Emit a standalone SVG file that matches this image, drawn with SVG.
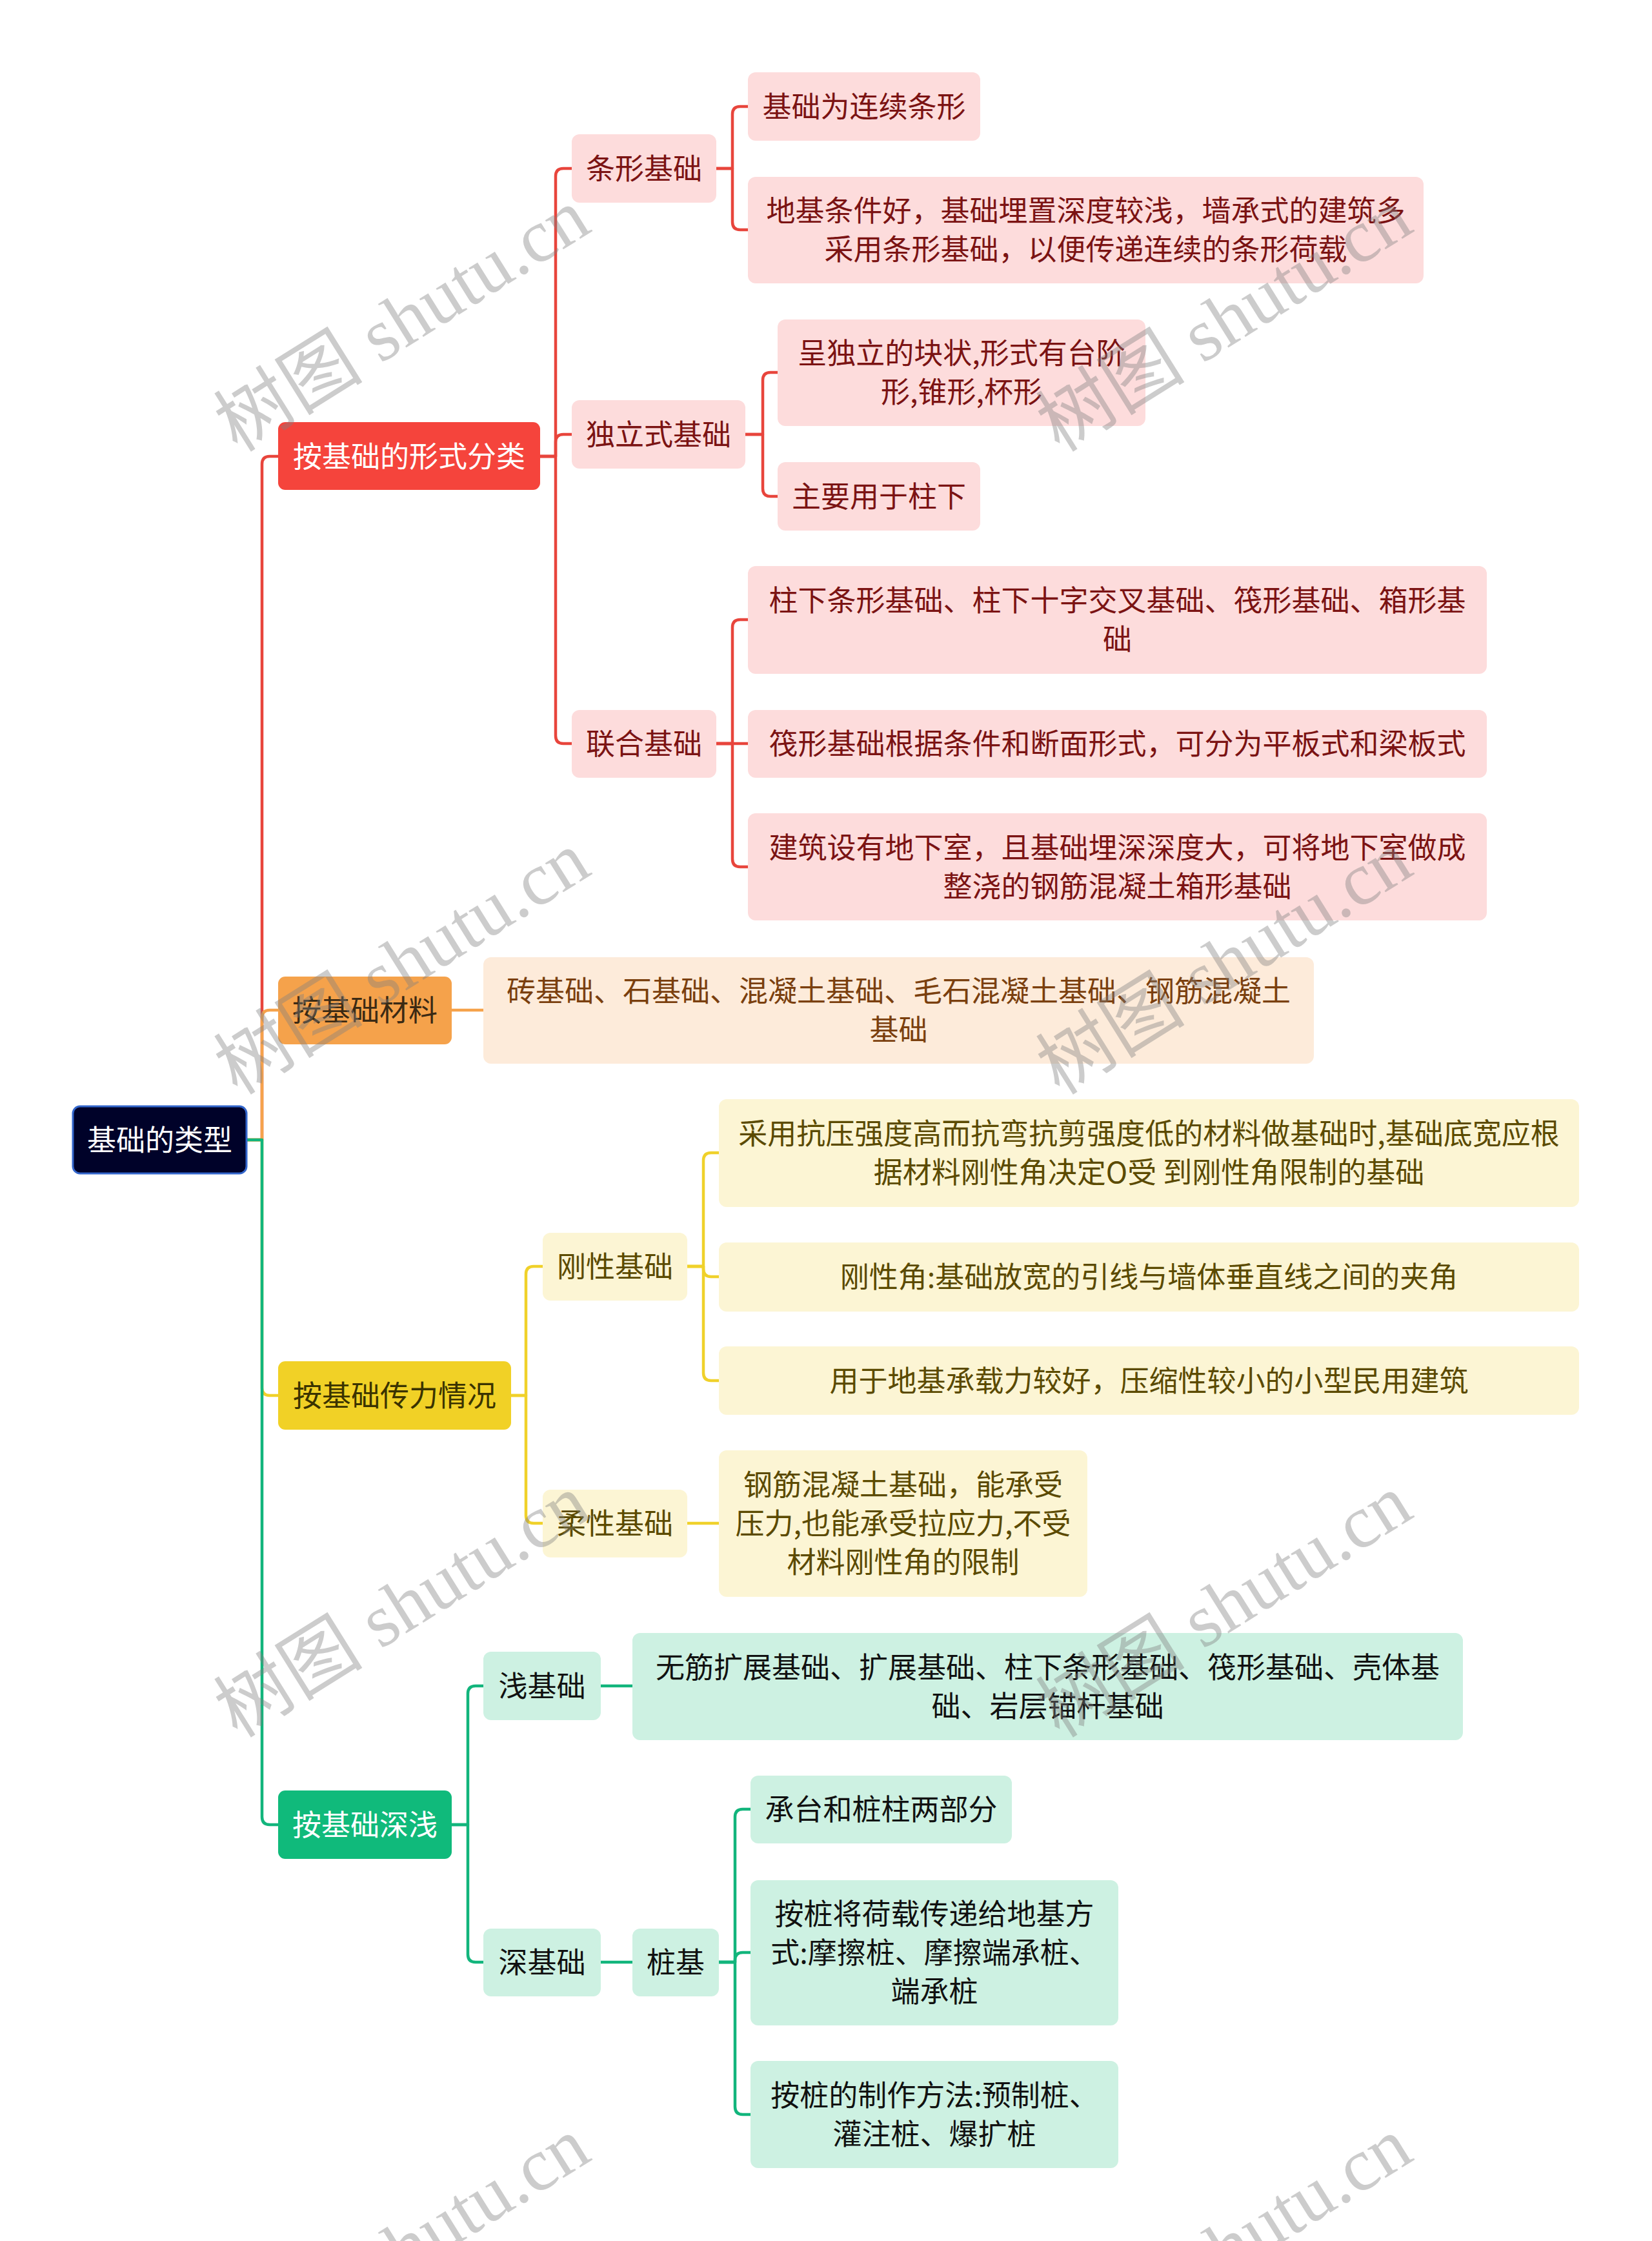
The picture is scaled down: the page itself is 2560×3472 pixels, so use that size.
<svg xmlns="http://www.w3.org/2000/svg" width="2560" height="3472" viewBox="0 0 2560 3472">
<style>
text{font-family:"Noto Sans CJK SC","Noto Sans",sans-serif;font-size:45px;text-anchor:middle}
.c{fill:none;stroke-width:4.5;stroke-linecap:round;stroke-linejoin:round}
.cr{stroke:#E8453C}.co{stroke:#F5A24B}.cy{stroke:#F0D12A}.cg{stroke:#12B57C}
.sr{fill:#FDDCDC}.tr{fill:#7B1313}
.so{fill:#FDEBDA}.to{fill:#7A3F0E}
.sy{fill:#FCF5D4}.ty{fill:#5B4A00}
.sg{fill:#CDF1E2}.tg{fill:#111111}
.wm{font-family:"Liberation Serif","Noto Sans CJK SC",serif;font-size:116px;text-anchor:start;fill:#808080;fill-opacity:0.4}
</style>
<rect width="2560" height="3472" fill="#FFFFFF"/>
<g id="connectors">
<path class="c cr" d="M382 1766H406V719Q406 707 418 707H431"/>
<path class="c cr" d="M837 707H861V273Q861 261 873 261H886"/>
<path class="c cr" d="M837 707H861V685Q861 673 873 673H886"/>
<path class="c cr" d="M837 707H861V1140Q861 1152 873 1152H886"/>
<path class="c cr" d="M1110 261H1135V177Q1135 165 1147 165H1159"/>
<path class="c cr" d="M1110 261H1135V344Q1135 356 1147 356H1159"/>
<path class="c cr" d="M1155 673H1182V589Q1182 577 1194 577H1205"/>
<path class="c cr" d="M1155 673H1182V757Q1182 769 1194 769H1205"/>
<path class="c cr" d="M1110 1152H1135V972Q1135 960 1147 960H1159"/>
<path class="c cr" d="M1110 1152H1159"/>
<path class="c cr" d="M1110 1152H1135V1331Q1135 1343 1147 1343H1159"/>
<path class="c co" d="M382 1766H406V1577Q406 1565 418 1565H431"/>
<path class="c co" d="M700 1565H749"/>
<path class="c cy" d="M382 1766H406V2150Q406 2162 418 2162H431"/>
<path class="c cy" d="M792 2162H815V1974Q815 1962 827 1962H841"/>
<path class="c cy" d="M792 2162H815V2348Q815 2360 827 2360H841"/>
<path class="c cy" d="M1065 1962H1090V1798Q1090 1786 1102 1786H1114"/>
<path class="c cy" d="M1065 1962H1090V1966Q1090 1978 1102 1978H1114"/>
<path class="c cy" d="M1065 1962H1090V2127Q1090 2139 1102 2139H1114"/>
<path class="c cy" d="M1065 2360H1114"/>
<path class="c cg" d="M382 1766H406V2815Q406 2827 418 2827H431"/>
<path class="c cg" d="M700 2827H725V2624Q725 2612 737 2612H749"/>
<path class="c cg" d="M700 2827H725V3028Q725 3040 737 3040H749"/>
<path class="c cg" d="M931 2612H980"/>
<path class="c cg" d="M931 3040H980"/>
<path class="c cg" d="M1114 3040H1139V2815Q1139 2803 1151 2803H1163"/>
<path class="c cg" d="M1114 3040H1139V3037Q1139 3025 1151 3025H1163"/>
<path class="c cg" d="M1114 3040H1139V3264Q1139 3276 1151 3276H1163"/>
</g>
<g id="root"><rect x="113" y="1714" width="269" height="104" rx="11" fill="#000229" stroke="#3366CC" stroke-width="3"/><text x="247.5" y="1783" fill="#FFFFFF">基础的类型</text></g>
<g id="n-form"><rect x="431" y="654" width="406" height="105" rx="11" fill="#F5443C"/><text x="634" y="724" fill="#FFFFFF">按基础的形式分类</text></g>
<g id="n-material"><rect x="431" y="1513" width="269" height="105" rx="11" fill="#F5A24B"/><text x="565.5" y="1582" fill="#3B2A14">按基础材料</text></g>
<g id="n-force"><rect x="431" y="2109" width="361" height="106" rx="11" fill="#F1D126"/><text x="611.5" y="2179" fill="#3A3300">按基础传力情况</text></g>
<g id="n-depth"><rect x="431" y="2774" width="269" height="106" rx="11" fill="#10BA7B"/><text x="565.5" y="2844" fill="#FFFFFF">按基础深浅</text></g>
<g id="n-strip"><rect class="sr" x="886" y="208" width="224" height="106" rx="12"/><text class="tr" x="998" y="278">条形基础</text></g>
<g id="n-isolated"><rect class="sr" x="886" y="620" width="269" height="106" rx="12"/><text class="tr" x="1020.5" y="690">独立式基础</text></g>
<g id="n-combined"><rect class="sr" x="886" y="1100" width="224" height="105" rx="12"/><text class="tr" x="998" y="1169">联合基础</text></g>
<g id="n-strip-1"><rect class="sr" x="1159" y="112" width="360" height="106" rx="12"/><text class="tr" x="1339" y="182">基础为连续条形</text></g>
<g id="n-strip-2"><rect class="sr" x="1159" y="274" width="1047" height="165" rx="12"/><text class="tr" x="1682.5" y="343">地基条件好，基础埋置深度较浅，墙承式的建筑多</text><text class="tr" x="1682.5" y="403">采用条形基础，以便传递连续的条形荷载</text></g>
<g id="n-iso-1"><rect class="sr" x="1205" y="495" width="570" height="165" rx="12"/><text class="tr" x="1490" y="564">呈独立的块状,形式有台阶</text><text class="tr" x="1490" y="624">形,锥形,杯形</text></g>
<g id="n-iso-2"><rect class="sr" x="1205" y="716" width="314" height="106" rx="12"/><text class="tr" x="1362" y="786">主要用于柱下</text></g>
<g id="n-comb-1"><rect class="sr" x="1159" y="877" width="1145" height="167" rx="12"/><text class="tr" x="1731.5" y="947">柱下条形基础、柱下十字交叉基础、筏形基础、箱形基</text><text class="tr" x="1731.5" y="1007">础</text></g>
<g id="n-comb-2"><rect class="sr" x="1159" y="1100" width="1145" height="105" rx="12"/><text class="tr" x="1731.5" y="1169">筏形基础根据条件和断面形式，可分为平板式和梁板式</text></g>
<g id="n-comb-3"><rect class="sr" x="1159" y="1260" width="1145" height="166" rx="12"/><text class="tr" x="1731.5" y="1330">建筑设有地下室，且基础埋深深度大，可将地下室做成</text><text class="tr" x="1731.5" y="1390">整浇的钢筋混凝土箱形基础</text></g>
<g id="n-mat-1"><rect class="so" x="749" y="1483" width="1287" height="165" rx="12"/><text class="to" x="1392.5" y="1552">砖基础、石基础、混凝土基础、毛石混凝土基础、钢筋混凝土</text><text class="to" x="1392.5" y="1612">基础</text></g>
<g id="n-rigid"><rect class="sy" x="841" y="1910" width="224" height="105" rx="12"/><text class="ty" x="953" y="1979">刚性基础</text></g>
<g id="n-flexible"><rect class="sy" x="841" y="2308" width="224" height="105" rx="12"/><text class="ty" x="953" y="2377">柔性基础</text></g>
<g id="n-rigid-1"><rect class="sy" x="1114" y="1703" width="1333" height="167" rx="12"/><text class="ty" x="1780.5" y="1773">采用抗压强度高而抗弯抗剪强度低的材料做基础时,基础底宽应根</text><text class="ty" x="1780.5" y="1833">据材料刚性角决定O受 到刚性角限制的基础</text></g>
<g id="n-rigid-2"><rect class="sy" x="1114" y="1925" width="1333" height="107" rx="12"/><text class="ty" x="1780.5" y="1995">刚性角:基础放宽的引线与墙体垂直线之间的夹角</text></g>
<g id="n-rigid-3"><rect class="sy" x="1114" y="2086" width="1333" height="106" rx="12"/><text class="ty" x="1780.5" y="2156">用于地基承载力较好，压缩性较小的小型民用建筑</text></g>
<g id="n-flex-1"><rect class="sy" x="1114" y="2247" width="571" height="227" rx="12"/><text class="ty" x="1399.5" y="2317">钢筋混凝土基础，能承受</text><text class="ty" x="1399.5" y="2377">压力,也能承受拉应力,不受</text><text class="ty" x="1399.5" y="2437">材料刚性角的限制</text></g>
<g id="n-shallow"><rect class="sg" x="749" y="2559" width="182" height="106" rx="12"/><text class="tg" x="840" y="2629">浅基础</text></g>
<g id="n-deep"><rect class="sg" x="749" y="2988" width="182" height="105" rx="12"/><text class="tg" x="840" y="3057">深基础</text></g>
<g id="n-shallow-1"><rect class="sg" x="980" y="2530" width="1287" height="166" rx="12"/><text class="tg" x="1623.5" y="2600">无筋扩展基础、扩展基础、柱下条形基础、筏形基础、壳体基</text><text class="tg" x="1623.5" y="2660">础、岩层锚杆基础</text></g>
<g id="n-pile"><rect class="sg" x="980" y="2988" width="134" height="105" rx="12"/><text class="tg" x="1047" y="3057">桩基</text></g>
<g id="n-pile-1"><rect class="sg" x="1163" y="2751" width="405" height="105" rx="12"/><text class="tg" x="1365.5" y="2820">承台和桩柱两部分</text></g>
<g id="n-pile-2"><rect class="sg" x="1163" y="2913" width="570" height="225" rx="12"/><text class="tg" x="1448" y="2982">按桩将荷载传递给地基方</text><text class="tg" x="1448" y="3042">式:摩擦桩、摩擦端承桩、</text><text class="tg" x="1448" y="3102">端承桩</text></g>
<g id="n-pile-3"><rect class="sg" x="1163" y="3193" width="570" height="166" rx="12"/><text class="tg" x="1448" y="3263">按桩的制作方法:预制桩、</text><text class="tg" x="1448" y="3323">灌注桩、爆扩桩</text></g>
<g id="watermark">
<text class="wm" x="368" y="702" transform="rotate(-32 368 702)">树图 shutu.cn</text>
<text class="wm" x="1642" y="702" transform="rotate(-32 1642 702)">树图 shutu.cn</text>
<text class="wm" x="368" y="1698" transform="rotate(-32 368 1698)">树图 shutu.cn</text>
<text class="wm" x="1642" y="1698" transform="rotate(-32 1642 1698)">树图 shutu.cn</text>
<text class="wm" x="368" y="2694" transform="rotate(-32 368 2694)">树图 shutu.cn</text>
<text class="wm" x="1642" y="2694" transform="rotate(-32 1642 2694)">树图 shutu.cn</text>
<text class="wm" x="368" y="3690" transform="rotate(-32 368 3690)">树图 shutu.cn</text>
<text class="wm" x="1642" y="3690" transform="rotate(-32 1642 3690)">树图 shutu.cn</text>
</g>
</svg>
